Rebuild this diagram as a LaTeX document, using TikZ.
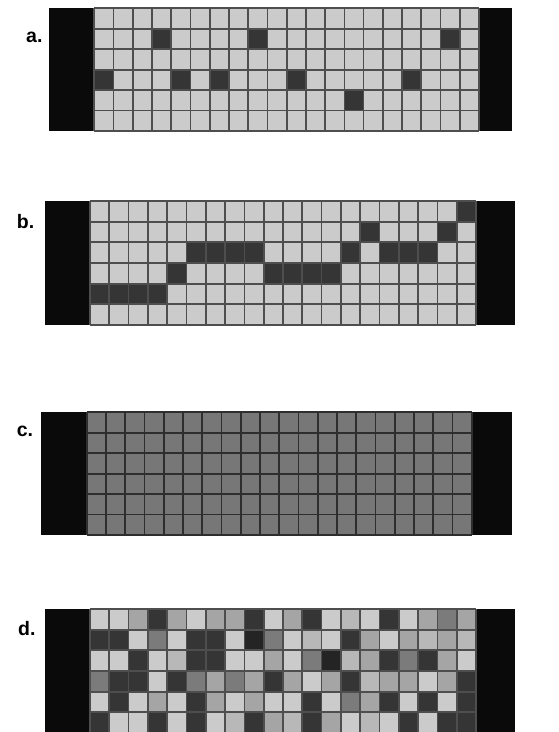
\documentclass[tikz,border=0pt]{standalone}
\usepackage{fontspec}
\setmainfont{Liberation Sans}
\definecolor{barblack}{HTML}{0A0A0A}
\definecolor{cL}{HTML}{CBCBCB}
\definecolor{cK}{HTML}{B8B8B8}
\definecolor{cM}{HTML}{A5A5A5}
\definecolor{cG}{HTML}{7B7B7B}
\definecolor{cD}{HTML}{353535}
\definecolor{cV}{HTML}{242424}
\definecolor{cC}{HTML}{777777}
\definecolor{gridgray}{HTML}{4E4E4E}
\definecolor{griddark}{HTML}{2E2E2E}
\begin{document}
\begin{tikzpicture}[x=1pt,y=-1pt,
  lbl/.style={font=\bfseries\fontsize{19.5}{22}\selectfont, anchor=base west, inner sep=0pt},
  gl/.style={draw=gridgray, line width=1.7pt},
  gd/.style={draw=griddark, line width=1.7pt},
  bar/.style={fill=barblack}]
\useasboundingbox (0,0) rectangle (559,732);
\clip (0,0) rectangle (559,732);
\fill[white] (0,0) rectangle (559,732);

% ---------- panel a ----------
\node[lbl] (la) at (26,42) {a.};
\fill[bar] (49.3,8.3) rectangle (94.3,131);
\fill[bar] (479,8.3) rectangle (511.7,131);
\begin{scope}[shift={(94.3,8.3)}, x=19.235pt, y=-20.45pt]
  \fill[cL] (0,0) rectangle (20,6);
  \foreach \c/\r in {3/1,8/1,18/1,0/3,4/3,6/3,10/3,16/3,13/4}
    \fill[cD] (\c,\r) rectangle ++(1,1);
  \foreach \i in {0,...,20} \draw[gl] (\i,0) -- (\i,6);
  \foreach \j in {0,...,6} \draw[gl] (0,\j) -- (20,\j);
\end{scope}

% ---------- panel b ----------
\node[lbl] (lb) at (16.7,228.3) {b.};
\fill[bar] (45,201) rectangle (90,325);
\fill[bar] (476,201) rectangle (515,325);
\begin{scope}[shift={(90,201)}, x=19.3pt, y=-20.667pt]
  \fill[cL] (0,0) rectangle (20,6);
  \foreach \c/\r in {19/0,14/1,18/1,5/2,6/2,7/2,8/2,13/2,15/2,16/2,17/2,
                     4/3,9/3,10/3,11/3,12/3,0/4,1/4,2/4,3/4}
    \fill[cD] (\c,\r) rectangle ++(1,1);
  \foreach \i in {0,...,20} \draw[gl] (\i,0) -- (\i,6);
  \foreach \j in {0,...,6} \draw[gl] (0,\j) -- (20,\j);
\end{scope}

% ---------- panel c ----------
\node[lbl] (lc) at (16.7,436.7) {c.};
\fill[bar] (40.7,412.3) rectangle (86.7,535);
\fill[bar] (471.7,412.3) rectangle (511.7,535);
\begin{scope}[shift={(86.7,412.3)}, x=19.25pt, y=-20.45pt]
  \fill[cC] (0,0) rectangle (20,6);
  \foreach \i in {0,...,20} \draw[gd] (\i,0) -- (\i,6);
  \foreach \j in {0,...,6} \draw[gd] (0,\j) -- (20,\j);
\end{scope}

% ---------- panel d ----------
\node[lbl] (ld) at (18,635) {d.};
\fill[bar] (45,609) rectangle (90,733);
\fill[bar] (476,609) rectangle (515,733);
\begin{scope}[shift={(90,609)}, x=19.3pt, y=-20.667pt]
  \foreach \row [count=\r from 0] in {
    {L,L,M,D,M,L,M,M,D,L,M,D,L,K,L,D,L,M,G,M},
    {D,D,L,G,L,D,D,L,V,G,L,K,L,D,M,L,M,K,M,K},
    {L,L,D,L,K,D,D,L,L,M,L,G,V,K,M,D,G,D,M,L},
    {G,D,D,L,D,G,M,G,M,D,M,L,M,D,K,M,M,L,M,D},
    {L,D,L,M,L,D,M,L,M,L,L,D,L,G,M,D,L,D,L,D},
    {D,L,L,D,L,D,L,K,D,M,K,D,M,L,K,L,D,L,D,D}}
  {
    \foreach \cc [count=\c from 0] in \row
      \fill[c\cc] (\c,\r) rectangle ++(1,1);
  }
  \foreach \i in {0,...,20} \draw[gl] (\i,0) -- (\i,6);
  \foreach \j in {0,...,6} \draw[gl] (0,\j) -- (20,\j);
\end{scope}
\end{tikzpicture}
\end{document}
